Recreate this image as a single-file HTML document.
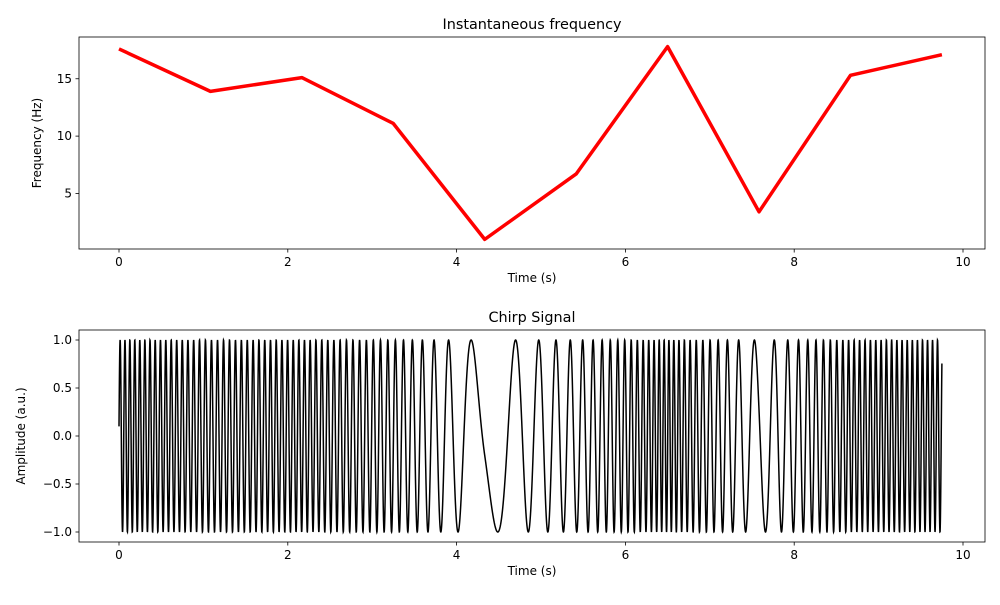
<!DOCTYPE html>
<html><head><meta charset="utf-8"><style>
body{margin:0;background:#fff;font-family:"Liberation Sans","DejaVu Sans",sans-serif}
svg text{font-family:"DejaVu Sans","Liberation Sans",sans-serif;font-size:12px;fill:#000}
</style></head><body>
<svg id="c" width="1000" height="600"></svg>
<script>
const times=[0,1.0833,2.1667,3.25,4.3333,5.4167,6.5,7.5833,8.6667,9.75];
const freqs=[17.6,13.9,15.1,11.1,1.0,6.7,17.8,3.4,15.3,17.1];
const xTicks=[0,2,4,6,8,10];
const fTicks=[5,10,15];
const aTicks=[-1.0,-0.5,0.0,0.5,1.0];
const NS='http://www.w3.org/2000/svg';
const svg=document.getElementById('c');
function el(t,a,p){const e=document.createElementNS(NS,t);for(const k in a)e.setAttribute(k,a[k]);(p||svg).appendChild(e);return e;}
const L=79,R=985;
const xs=v=>119+(v-0)*(963-119)/10;
const T1=37,B1=249,T2=330,B2=542;
const fmin=0.16,fmax=18.64;
const yf=v=>B1-(v-fmin)/(fmax-fmin)*(B1-T1);
const ya=v=>436-v*96;
function axes(top,bot,name,title,ylabel,yt,ys,fmt,ylx){
  const g=el('g',{});  
  el('rect',{x:L,y:top,width:R-L,height:bot-top,fill:'none',stroke:'#000','stroke-width':0.8},g);
  xTicks.forEach(v=>{const x=xs(v);el('line',{x1:x,x2:x,y1:bot,y2:bot+3.5,stroke:'#000','stroke-width':0.8},g);
    const t=el('text',{x:x,y:bot+17,'text-anchor':'middle'},g);t.textContent=v;});
  yt.forEach(v=>{const y=ys(v);el('line',{x1:L-3.5,x2:L,y1:y,y2:y,stroke:'#000','stroke-width':0.8},g);
    const t=el('text',{x:L-7,y:y+4,'text-anchor':'end'},g);t.textContent=fmt(v);});
  const tt=el('text',{x:(L+R)/2,y:top-8,'text-anchor':'middle','font-size':'14.4px',style:'font-size:14.4px'},g);tt.textContent=title;
  
  const xl=el('text',{x:(L+R)/2,y:bot+33,'text-anchor':'middle'},g);xl.textContent='Time (s)';
  
  const cy=(top+bot)/2;
  const yl=el('text',{x:ylx,y:cy,'text-anchor':'middle',transform:`rotate(-90 ${ylx} ${cy})`},g);yl.textContent=ylabel;
  
  return g;
}
const g1=axes(T1,B1,'frequency-axes','Instantaneous frequency','Frequency (Hz)',fTicks,yf,v=>v,41);
const p1=el('polyline',{points:times.map((t,i)=>xs(t)+','+yf(freqs[i])).join(' '),fill:'none',stroke:'#ff0000','stroke-width':3.5,'stroke-linejoin':'round'},g1);

const g2=axes(T2,B2,'chirp-axes','Chirp Signal','Amplitude (a.u.)',aTicks,ya,v=>v.toFixed(1).replace('-','\u2212'),25);
function fAt(t){for(let i=0;i<times.length-1;i++){if(t<=times[i+1]){const u=(t-times[i])/(times[i+1]-times[i]);return freqs[i]+u*(freqs[i+1]-freqs[i]);}}return freqs[freqs.length-1];}
const N=8000,tEnd=times[times.length-1];let ph=0.016,pts=[];
for(let k=0;k<=N;k++){const t=k*tEnd/N;if(k>0)ph+=fAt(t-tEnd/N/2)*tEnd/N;pts.push(xs(t).toFixed(2)+','+ya(Math.sin(2*Math.PI*ph)).toFixed(2));}
const p2=el('polyline',{points:pts.join(' '),fill:'none',stroke:'#000','stroke-width':1.5},g2);

</script>
</body></html>
